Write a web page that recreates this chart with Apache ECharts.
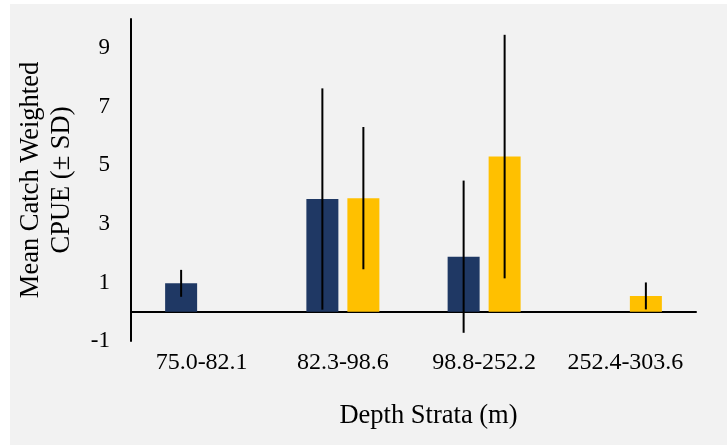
<!DOCTYPE html>
<html>
<head>
<meta charset="utf-8">
<script src="https://cdn.jsdelivr.net/npm/echarts@6/dist/echarts.min.js"></script>
<style>
  html, body { margin: 0; padding: 0; background: #ffffff; }
  #chart { width: 727px; height: 445px; }
</style>
</head>
<body>
<div id="chart"></div>
<script>
// ---- data ----
const categories = ['75.0-82.1', '82.3-98.6', '98.8-252.2', '252.4-303.6'];
const seriesAMean = [0.97, 3.85, 1.88, '-'];
const seriesASD   = [0.46, 3.78, 2.60, '-'];
const seriesBMean = ['-', 3.88, 5.30, 0.54];
const seriesBSD   = ['-', 2.43, 4.16, 0.46];
const yTicks = [-1, 1, 3, 5, 7, 9];

const navy = '#1f3864';
const gold = '#ffc000';
const fontFamily = '"Liberation Serif", "Times New Roman", serif';
const barWidth = 32;
const barGapPx = 9;
const halfOffset = (barWidth + barGapPx) / 2;

function errData(means, sds) {
  const out = [];
  means.forEach((m, i) => {
    if (m !== '-' && sds[i] !== '-') out.push([i, m, sds[i]]);
  });
  return out;
}

function errRender(offset) {
  return function (params, api) {
    const x = api.value(0), m = api.value(1), sd = api.value(2);
    const top = api.coord([x, m + sd]);
    const bot = api.coord([x, m - sd]);
    return {
      type: 'line',
      shape: { x1: top[0] + offset, y1: top[1], x2: bot[0] + offset, y2: bot[1] },
      style: { stroke: '#000000', lineWidth: 2 }
    };
  };
}

const chart = echarts.init(document.getElementById('chart'), null, { renderer: 'canvas' });
chart.setOption({
  animation: false,
  backgroundColor: 'transparent',
  graphic: [{
    type: 'rect',
    left: 10, top: 4,
    shape: { width: 717, height: 441 },
    style: { fill: '#f2f2f2' },
    z: -10, silent: true
  }],
  grid: { left: 131, right: 31, top: 19, bottom: 104, containLabel: false, outerBoundsMode: 'none' },
  xAxis: {
    type: 'category',
    data: categories,
    axisLine: { onZero: true, lineStyle: { color: '#000', width: 2 } },
    axisTick: { show: false },
    axisLabel: { margin: 10, interval: 0, fontFamily, fontSize: 24, color: '#000' },
    name: 'Depth Strata (m)',
    nameLocation: 'middle',
    nameGap: 62,
    nameTextStyle: { fontFamily, fontSize: 26.5, color: '#000', padding: [0, 0, 0, 30] }
  },
  yAxis: {
    type: 'value',
    min: -1, max: 10, interval: 2,
    axisLine: { show: true, onZero: false, lineStyle: { color: '#000', width: 2 } },
    axisTick: { show: false },
    splitLine: { show: false },
    axisLabel: {
      margin: 21, fontFamily, fontSize: 23, color: '#000',
      showMaxLabel: false,
      formatter: v => (yTicks.indexOf(v) >= 0 ? String(v) : '')
    },
    name: 'Mean Catch Weighted\nCPUE (± SD)',
    nameLocation: 'middle',
    nameRotate: 90,
    nameGap: 53,
    nameTextStyle: { fontFamily, fontSize: 26.5, color: '#000', lineHeight: 31 }
  },
  series: [
    {
      type: 'bar', name: 'A', data: seriesAMean,
      barWidth, barGap: (barGapPx / barWidth * 100) + '%',
      itemStyle: { color: navy }, z: 2
    },
    {
      type: 'bar', name: 'B', data: seriesBMean,
      barWidth,
      itemStyle: { color: gold }, z: 2
    },
    {
      type: 'custom', name: 'A err', data: errData(seriesAMean, seriesASD),
      renderItem: errRender(-halfOffset), z: 5,
      encode: { x: 0, y: [1] }
    },
    {
      type: 'custom', name: 'B err', data: errData(seriesBMean, seriesBSD),
      renderItem: errRender(halfOffset), z: 5,
      encode: { x: 0, y: [1] }
    }
  ]
});
</script>
</body>
</html>
